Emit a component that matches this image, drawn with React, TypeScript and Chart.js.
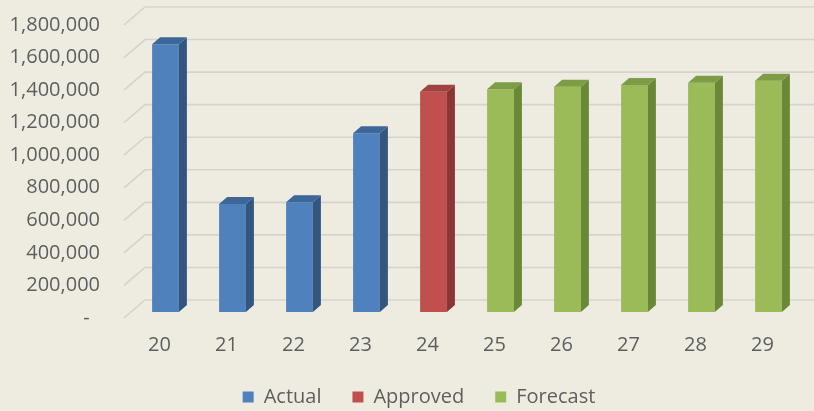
import { useEffect, useRef } from 'react';
import { Chart, registerables } from 'chart.js';

Chart.register(...registerables);

// Fiscal years shown along the floor of the chart
const years = ['20', '21', '22', '23', '24', '25', '26', '27', '28', '29'];

// One series per status; empty slots keep every bar on its own year
const actual = [1645000, 663000, 674000, 1098000, null, null, null, null, null, null];
const approved = [null, null, null, null, 1353000, null, null, null, null, null];
const forecast = [null, null, null, null, null, 1368000, 1384000, 1394000, 1408000, 1421000];

// Value axis ticks and their accounting-style labels
const yTickValues = [0, 200000, 400000, 600000, 800000, 1000000, 1200000, 1400000, 1600000, 1800000];
const yTickLabels = ['-  ', '200,000', '400,000', '600,000', '800,000', '1,000,000', '1,200,000', '1,400,000', '1,600,000', '1,800,000'];

const FONT = '"Open Sans", "DejaVu Sans", sans-serif';
const TEXT = '#5e5e5e';
const BG = '#EEECE1';
const GRID = '#D5D3CE';

// Offsets of the pseudo-3D projection, in pixels
const BAR_DEPTH = { x: 8, y: -7 };
const FLOOR_FRONT = { x: -8, y: 6 };
const BACK_WALL = { x: 13, y: -12 };
// The legend sits centred under the plot rather than the whole canvas
const LEGEND_SHIFT = 18;

const depthPlugin = {
  id: 'depth3d',
  afterLayout(chart: any) {
    const lg = chart.legend;
    if (lg) {
      lg.left += LEGEND_SHIFT;
      lg.right += LEGEND_SHIFT;
    }
  },
  beforeDraw(chart: any) {
    const { ctx, width, height } = chart;
    ctx.save();
    ctx.fillStyle = BG;
    ctx.fillRect(0, 0, width, height);
    ctx.restore();
  },
  beforeDatasetsDraw(chart: any) {
    const { ctx, chartArea } = chart;
    const yScale = chart.scales.y;
    ctx.save();
    ctx.strokeStyle = GRID;
    ctx.lineWidth = 1.6;
    for (const v of yTickValues) {
      const py = yScale.getPixelForValue(v);
      ctx.beginPath();
      ctx.moveTo(chartArea.left + FLOOR_FRONT.x, py + FLOOR_FRONT.y);
      ctx.lineTo(chartArea.left + BACK_WALL.x, py + BACK_WALL.y);
      ctx.lineTo(chart.width, py + BACK_WALL.y);
      ctx.stroke();
    }
    ctx.restore();
  },
  afterDatasetsDraw(chart: any) {
    const { ctx } = chart;
    const fillPoly = (pts: number[][], color: string) => {
      ctx.beginPath();
      ctx.moveTo(pts[0][0], pts[0][1]);
      for (let k = 1; k < pts.length; k++) ctx.lineTo(pts[k][0], pts[k][1]);
      ctx.closePath();
      ctx.fillStyle = color;
      ctx.fill();
    };
    ctx.save();
    chart.data.datasets.forEach((ds: any, i: number) => {
      const meta = chart.getDatasetMeta(i);
      meta.data.forEach((bar: any, j: number) => {
        if (ds.data[j] == null) return;
        const { x, y, base, width } = bar.getProps(['x', 'y', 'base', 'width'], true);
        const l = x - width / 2;
        const r = x + width / 2;
        const dx = BAR_DEPTH.x;
        const dy = BAR_DEPTH.y;
        // right side face
        fillPoly([[r, y], [r + dx, y + dy], [r + dx, base + dy], [r, base]], ds.sideColor);
        // top face
        fillPoly([[l, y], [l + dx, y + dy], [r + dx, y + dy], [r, y]], ds.topColor);
      });
    });
    ctx.restore();
  },
};

export default function App() {
  const canvasRef = useRef<HTMLCanvasElement | null>(null);

  useEffect(() => {
    let chart: Chart | null = null;
    let cancelled = false;

    const build = () => {
      if (cancelled || !canvasRef.current) return;
      const font = { family: FONT, size: 20 };
      chart = new Chart(canvasRef.current, {
        type: 'bar',
        data: {
          labels: years,
          datasets: [
            { label: 'Actual', data: actual, backgroundColor: '#4F81BD', sideColor: '#33567F', topColor: '#3D6699' } as any,
            { label: 'Approved', data: approved, backgroundColor: '#C0504D', sideColor: '#8A3634', topColor: '#A04240' } as any,
            { label: 'Forecast', data: forecast, backgroundColor: '#9BBB59', sideColor: '#6A8938', topColor: '#7C9C45' } as any,
          ],
        },
        options: {
          responsive: false,
          animation: false,
          layout: { padding: { left: 0, right: 12, top: 19, bottom: -6 } },
          datasets: {
            bar: { grouped: false, barPercentage: 1, categoryPercentage: 0.4, borderWidth: 0 },
          },
          plugins: {
            legend: {
              position: 'bottom',
              labels: { boxWidth: 11, boxHeight: 11, padding: 31, color: TEXT, font },
            },
            tooltip: { enabled: false },
          },
          scales: {
            x: {
              grid: { display: false, drawTicks: false },
              border: { display: false },
              ticks: { color: TEXT, font, padding: 21, labelOffset: -6, maxRotation: 0 },
              afterFit: (s: any) => {
                s.height = 44;
              },
            },
            y: {
              min: 0,
              max: 1800000,
              afterBuildTicks: (s: any) => {
                s.ticks = yTickValues.map((value) => ({ value }));
              },
              grid: { display: false, drawTicks: false },
              border: { display: false },
              ticks: {
                color: TEXT,
                font,
                padding: 32,
                labelOffset: 6,
                callback: (v: any) => yTickLabels[yTickValues.indexOf(Number(v))],
              },
              afterFit: (s: any) => {
                s.width = 132;
                s.paddingTop = 0;
                s.paddingBottom = 0;
              },
            },
          },
        } as any,
        plugins: [depthPlugin],
      });
    };

    const fontsReady = (document as any).fonts?.load
      ? (document as any).fonts.load('20px "Open Sans"').catch(() => null)
      : Promise.resolve();
    fontsReady.then(build);

    return () => {
      cancelled = true;
      if (chart) chart.destroy();
    };
  }, []);

  return (
    <div style={{ position: 'fixed', left: 0, top: 0, width: 814, height: 411, background: BG }}>
      <canvas ref={canvasRef} width={814} height={411} style={{ display: 'block' }} />
    </div>
  );
}
